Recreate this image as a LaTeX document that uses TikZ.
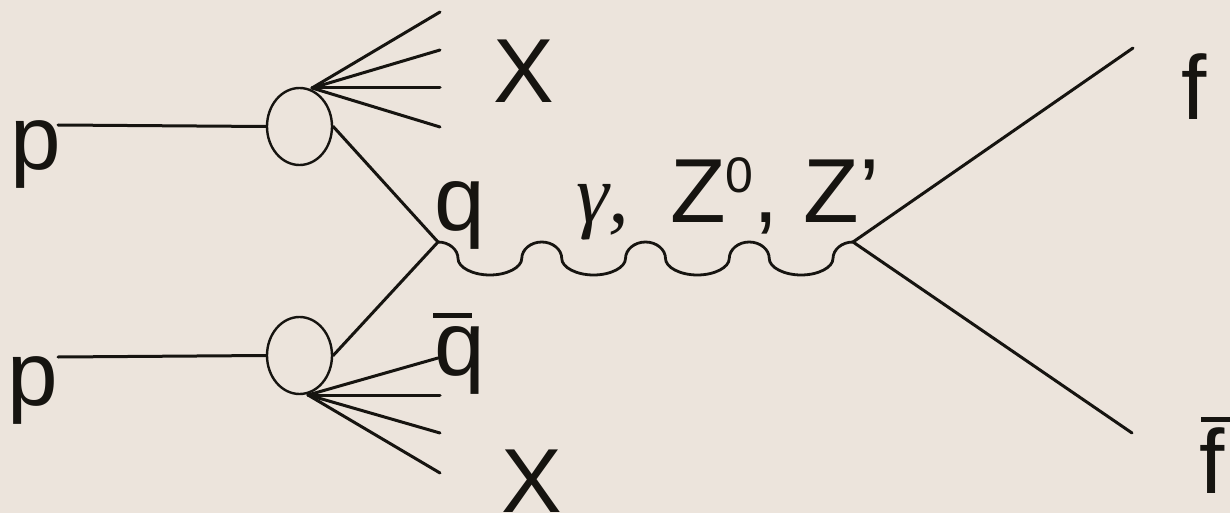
\documentclass[tikz,border=0pt]{standalone}
\usepackage{fontspec}
\setmainfont{Liberation Sans}
\newfontfamily\serifgreek{Liberation Serif}
\usetikzlibrary{shapes.geometric}
\definecolor{bgbeige}{RGB}{236,228,220}
\definecolor{inkdark}{RGB}{22,20,16}
\newcommand{\ovbar}[3]{\leavevmode\rlap{\hspace*{#2}\rule[#3]{#1}{5pt}}}
\tikzset{
  lbl/.style={anchor=base west, inner sep=0pt, outer sep=0pt, text=inkdark,
              font=\fontsize{91}{100}\selectfont},
  leg/.style={draw=inkdark, line width=3pt, line cap=round},
  blob/.style={ellipse, draw=inkdark, line width=2.4pt, inner sep=0pt,
               minimum width=65pt, minimum height=77pt},
  wave/.style={draw=inkdark, line width=2.8pt, line cap=round, line join=round},
}
\begin{document}
\begin{tikzpicture}[x=1pt,y=-1pt]
\fill[bgbeige] (0,0) rectangle (1230,513);
\useasboundingbox (0,0) rectangle (1230,513);

% labels
\node[lbl] (p1) at (10,170) {p};
\node[lbl] (p2) at (8,405) {p};
\node[lbl] (x1) at (493,103) {X};
\node[lbl] (x2) at (501,512) {X};
\node[lbl] (q) at (434,230) {q};
\node[lbl] (qb) at (434,375) {\ovbar{39pt}{-1pt}{57pt}q};
\node[lbl, font=\fontsize{83}{90}\selectfont\serifgreek\itshape] (gam) at (576,222) {γ,};
\node[lbl] (zz) at (670,222) {Z\raisebox{30pt}{\fontsize{50}{50}\selectfont 0}, Z’};
\node[lbl] (f) at (1181,120) {f};
\node[lbl] (fb) at (1199,493) {\ovbar{30pt}{2pt}{71pt}f};

% proton blobs
\node[blob] (e1) at (299.5,126.5) {};
\node[blob] (e2) at (299.5,355.5) {};

% vertices and free ends
\coordinate (vq) at (438,242);
\coordinate (vz) at (853,242);
\coordinate (t0) at (312,88);
\coordinate (b0) at (308,395);
\coordinate (pa) at (58,125);
\coordinate (pb) at (58,357);
\coordinate (t1) at (440,12);
\coordinate (t2) at (440,50);
\coordinate (t3) at (440,88);
\coordinate (t4) at (440,127);
\coordinate (b1) at (438,358);
\coordinate (b2) at (440,395);
\coordinate (b3) at (440,433);
\coordinate (b4) at (440,473);
\coordinate (fo) at (1133,48);
\coordinate (fbo) at (1132,433);

% incoming protons
\draw[leg] (pa) -- (e1.west);
\draw[leg] (pb) -- (e2.west);

% spectator fans
\foreach \e in {t1,t2,t3,t4} \draw[leg] (t0) -- (\e);
\foreach \e in {b1,b2,b3,b4} \draw[leg] (b0) -- (\e);

% quark lines
\draw[leg] (e1.east) -- (vq);
\draw[leg] (e2.east) -- (vq);

% boson propagator: narrow crests, wide troughs, steep sides
\draw[wave] (vq) \foreach \i in {1,...,4}{
   .. controls +(11,0) and +(0,-9) .. ++(20,16.5)
   .. controls +(0,9) and +(-17,0) .. ++(31.875,16.5)
   .. controls +(17,0) and +(0,9) .. ++(31.875,-16.5)
   .. controls +(0,-9) and +(-11,0) .. ++(20,-16.5) };

% outgoing fermions
\draw[leg] (vz) -- (fo);
\draw[leg] (vz) -- (fbo);
\end{tikzpicture}
\end{document}
